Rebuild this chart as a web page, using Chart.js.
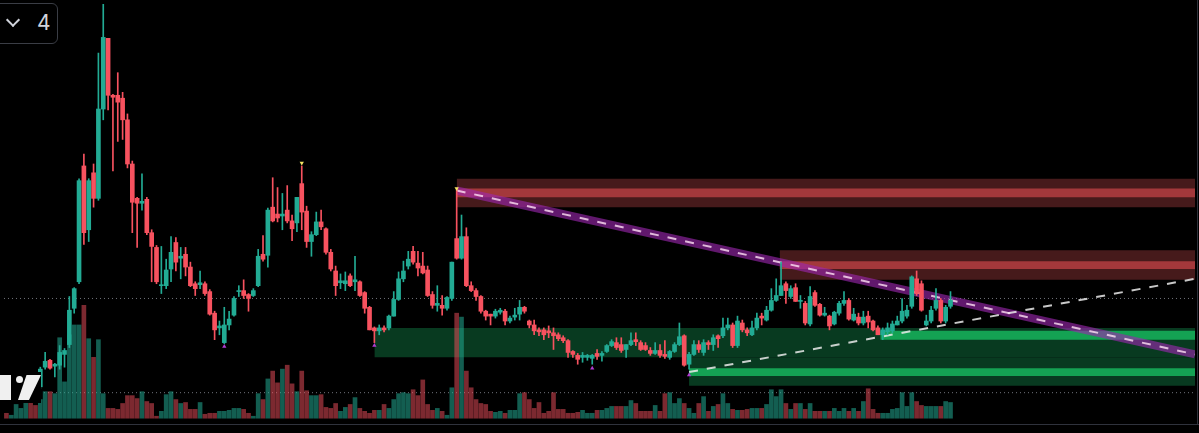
<!DOCTYPE html>
<html>
<head>
<meta charset="utf-8">
<script src="https://cdn.jsdelivr.net/npm/chart.js@4.4.1/dist/chart.umd.min.js"></script>
<style>
  html, body { margin: 0; padding: 0; background: #000; }
  #wrap { position: relative; width: 1199px; height: 433px; overflow: hidden; background: #000; }
  .btn { position: absolute; left: -8px; top: 3px; width: 64px; height: 39px; border: 1px solid #3a3d45; border-radius: 6px; background: #000; }
  .chev { position: absolute; left: 15px; top: 11px; width: 8px; height: 8px; border-right: 2px solid #d1d4dc; border-bottom: 2px solid #d1d4dc; transform: rotate(45deg); }
  .num { position: absolute; left: 44px; top: 6px; font: 21px "Inter", "Roboto", sans-serif; color: #d1d4dc; }
  .logo { position: absolute; left: 0; top: 372px; width: 41px; height: 31px; background: #000; }
  .logo .a { position: absolute; left: 0; top: 3px; width: 11px; height: 25px; background: #f0f0f0; }
  .logo .b { position: absolute; left: 16px; top: 4px; width: 7px; height: 7px; border-radius: 50%; background: #f0f0f0; }
  .logo .c { position: absolute; left: 16px; top: 3px; width: 25px; height: 25px; background: #f0f0f0; clip-path: polygon(42% 0, 100% 0, 52% 100%, 8% 100%); }
  .edge-b { position: absolute; left: 0; top: 424px; width: 1199px; height: 1px; background: #2f323c; }
  .edge-r { position: absolute; left: 1197px; top: 0; width: 1px; height: 425px; background: #2f323c; }
</style>
</head>
<body>
<div id="wrap">
  <canvas id="myChart"></canvas>
  <div class="btn"><span class="chev"></span><span class="num">4</span></div>
  <div class="logo"><span class="a"></span><span class="b"></span><span class="c"></span></div>
  <div class="edge-b"></div>
  <div class="edge-r"></div>
</div>
<script>
// candles, one per bar index (price units are arbitrary)
const opens = [
  48,46,48,50,51,54,51,50,
  70,77,71,72,83,93,130,157,275,210,268,242,
  333,405,347,347,344,322,277,242,237,241,207,192,
  153,153,170,197,181,185,172,155,154,155,147,125,
  110,95,113,123,147,148,144,143,153,185,184,233,
  226,224,230,219,217,257,229,198,205,218,211,187,
  168,156,155,163,157,157,146,131,110,107,110,110,
  122,139,160,173,188,176,173,169,144,133,133,130,
  140,201,181,203,153,148,142,127,124,122,126,127,
  117,121,124,131,117,113,108,108,107,105,103,100,
  97,86,82,80,80,79,84,82,86,92,95,93,
  88,93,98,95,92,87,84,87,83,80,86,93,
  102,73,83,93,85,95,93,102,102,110,113,92,
  115,108,103,110,122,118,128,138,143,155,142,151,
  137,135,114,146,134,123,122,114,125,135,138,118,
  121,115,122,117,110,103,106,107,113,117,122,132,
  160,155,113,117,130,138,117,132
];
const highs = [
  50,51,52,53,56,55,53,70,
  85,78,74,92,89,142,151,262,287,262,277,390,
  440,405,348,370,350,328,280,243,267,243,210,194,
  193,180,203,202,192,192,177,157,168,157,149,127,
  117,131,127,142,153,159,145,150,190,204,232,263,
  253,247,255,225,243,275,234,208,228,230,212,190,
  173,165,167,165,183,158,147,132,111,113,112,123,
  147,167,178,188,193,188,187,173,147,153,143,142,
  177,251,225,212,157,150,143,128,124,129,130,129,
  122,130,138,132,118,118,110,110,112,110,105,102,
  98,87,84,85,83,83,88,86,93,98,100,100,
  93,105,105,97,95,90,95,93,97,87,95,115,
  103,85,97,97,98,97,103,103,120,120,115,122,
  118,110,117,125,125,132,150,160,177,157,153,155,
  143,137,152,148,135,131,123,127,137,147,140,130,
  125,127,127,118,112,110,115,117,122,140,133,163,
  168,158,123,132,150,140,133,147
];
const lows = [
  44,45,46,47,49,49,48,48,
  68,68,60,68,70,90,125,155,195,198,233,240,
  322,332,270,300,302,273,207,192,230,205,157,155,
  145,150,157,168,160,163,152,143,150,143,123,98,
  103,94,108,122,142,140,127,142,152,178,172,218,
  218,210,217,199,208,210,192,183,204,210,185,168,
  143,150,148,152,148,142,125,108,95,103,106,108,
  122,138,157,170,175,163,165,142,130,127,123,128,
  138,180,180,152,147,138,125,118,113,120,124,113,
  115,118,118,125,110,103,102,98,100,88,97,95,
  80,80,73,75,77,73,78,76,85,91,88,85,
  80,92,92,87,87,82,83,80,79,78,85,92,
  71,68,82,85,82,88,87,90,100,108,90,90,
  106,102,102,108,113,117,127,137,143,135,140,137,
  130,113,112,132,122,122,108,113,123,133,118,117,
  113,113,110,107,103,98,103,105,113,115,120,130,
  143,127,112,115,128,115,115,130
];
const closes = [
  46,49,50,51,54,51,49,68,
  76,69,73,85,87,128,150,260,207,260,242,333,
  406,347,345,340,322,277,238,237,239,207,193,157,
  154,169,187,177,183,172,153,150,156,145,124,108,
  112,113,119,140,148,143,140,148,183,180,230,219,
  222,226,219,211,243,228,198,205,218,213,187,170,
  153,158,158,153,159,143,130,108,107,110,108,122,
  139,160,168,180,177,171,166,143,133,135,130,141,
  177,181,203,153,148,142,127,122,122,127,128,117,
  120,123,131,127,113,107,106,103,105,102,99,97,
  85,83,78,82,82,82,81,84,92,96,90,87,
  93,97,96,88,88,84,87,82,81,86,93,101,
  72,83,93,88,95,93,100,99,110,113,92,117,
  108,105,110,120,120,128,138,143,153,148,150,137,
  138,115,142,133,123,125,112,126,135,138,119,124,
  115,121,116,108,103,108,110,114,117,127,128,162,
  145,128,117,128,138,117,131,138
];
const volumes = [
  5,3,14,10,18,18,13,19,27,27,25,82,
  37,85,95,95,115,81,62,80,25,10,10,9,
  15,23,23,20,27,17,15,2,7,24,27,19,
  15,16,9,9,16,4,5,5,7,7,8,10,
  10,9,5,2,25,19,40,48,36,50,54,35,
  27,48,28,23,23,24,11,10,15,7,11,14,
  21,10,7,5,8,8,14,10,19,25,26,25,
  29,23,39,14,8,10,7,3,31,107,103,48,
  31,19,15,14,7,6,7,5,8,8,25,26,
  19,10,16,5,7,26,9,9,5,5,6,8,
  5,5,8,8,10,12,12,12,12,18,15,7,
  7,7,13,7,25,26,15,20,15,10,5,15,
  22,7,12,14,25,15,9,8,8,9,10,10,
  10,14,29,22,29,15,9,15,15,9,15,7,
  7,7,7,10,7,10,7,10,7,17,30,9,
  5,5,5,9,10,26,12,26,17,13,12,12,
  12,12,17,16
];

// empty bars to the right of the last candle
const barCount = 246;
const labels = [];
for (let i = 0; i < barCount; i++) labels.push(String(i));
const lastX = barCount - 0.5;

// zones: start bar, top price, bottom price
const supplyOuter = [[93, 262, 233], [159.7, 189, 159]];
const supplyInner = [[93, 252, 243], [159.7, 178, 170]];
const demandOuter = [[76, 110, 80], [141, 80, 51]];
const demandInner = [[141, 69, 61], [180.5, 107, 98]];

// trendlines [bar, price]
const trendDown = [[93, 250], [lastX, 83]];
const trendUp = [[141, 65], [lastX, 160]];
const dottedLevels = [140, 44];
const peakMarks = [[61, 278], [93, 252]];
const lowMarks = [[45, 91], [76, 92], [121, 69], [141, 62]];

const UP = "#22ab94";
const DOWN = "#f7525f";
const isUp = opens.map((o, i) => closes[i] >= o);
const candleColors = isUp.map(u => (u ? UP : DOWN));
const volColors = isUp.map(u => (u ? "rgba(34,171,148,0.55)" : "rgba(247,82,95,0.5)"));

function zoneSet(list, color, order) {
  return list.map(z => ({
    type: "line",
    xAxisID: "xl",
    yAxisID: "y",
    data: [{ x: z[0], y: z[1] }, { x: lastX, y: z[1] }],
    fill: { value: z[2] },
    backgroundColor: color,
    borderWidth: 0,
    pointRadius: 0,
    order: order
  }));
}

function pts(list) {
  return list.map(p => ({ x: p[0], y: p[1] }));
}

const datasets = [].concat(
  zoneSet(supplyOuter, "#461a1b", 30),
  zoneSet(supplyInner, "#a3383b", 29),
  zoneSet(demandOuter, "#083a20", 30),
  zoneSet(demandInner, "#14a253", 29),
  dottedLevels.map(v => ({
    type: "line",
    xAxisID: "xl",
    yAxisID: "y",
    data: [{ x: -0.5, y: v }, { x: lastX, y: v }],
    borderColor: "rgba(140,143,152,0.8)",
    borderWidth: 1,
    borderDash: [1, 3],
    pointRadius: 0,
    fill: false,
    order: 25
  })),
  [
    {
      type: "bar",
      xAxisID: "x",
      yAxisID: "yv",
      data: volumes,
      backgroundColor: volColors,
      barThickness: 4,
      grouped: false,
      order: 20
    },
    {
      type: "line",
      xAxisID: "xl",
      yAxisID: "y",
      data: pts(trendDown),
      borderColor: "rgba(156,39,176,0.62)",
      borderWidth: 8,
      pointRadius: 0,
      fill: false,
      order: 15
    },
    {
      type: "line",
      xAxisID: "xl",
      yAxisID: "y",
      data: pts(trendDown),
      borderColor: "rgba(255,225,245,0.8)",
      borderWidth: 2,
      borderDash: [9, 9],
      pointRadius: 0,
      fill: false,
      order: 14
    },
    {
      type: "line",
      xAxisID: "xl",
      yAxisID: "y",
      data: pts(trendUp),
      borderColor: "rgba(235,235,235,0.85)",
      borderWidth: 2,
      borderDash: [9, 9],
      pointRadius: 0,
      fill: false,
      order: 14
    },
    {
      type: "bar",
      xAxisID: "x",
      yAxisID: "y",
      data: lows.map((l, i) => [l, highs[i]]),
      backgroundColor: candleColors,
      barThickness: 1,
      grouped: false,
      order: 4
    },
    {
      type: "bar",
      xAxisID: "x",
      yAxisID: "y",
      data: opens.map((o, i) => [o, closes[i]]),
      backgroundColor: candleColors,
      barThickness: 4,
      minBarLength: 1,
      grouped: false,
      order: 3
    },
    {
      type: "scatter",
      xAxisID: "xl",
      yAxisID: "y",
      data: pts(peakMarks),
      pointStyle: "triangle",
      rotation: 180,
      radius: 2.5,
      backgroundColor: "#f5e663",
      borderWidth: 0,
      order: 1
    },
    {
      type: "scatter",
      xAxisID: "xl",
      yAxisID: "y",
      data: pts(lowMarks),
      pointStyle: "triangle",
      radius: 2.5,
      backgroundColor: "#b13bd0",
      borderWidth: 0,
      order: 1
    }
  ]
);

new Chart(document.getElementById("myChart"), {
  type: "bar",
  data: { labels: labels, datasets: datasets },
  options: {
    responsive: true,
    maintainAspectRatio: false,
    animation: false,
    events: [],
    layout: { padding: 0 },
    plugins: { legend: { display: false }, tooltip: { enabled: false } },
    scales: {
      x: { type: "category", display: false, offset: true },
      xl: { type: "linear", display: false, offset: false, bounds: "data", min: -0.5, max: lastX },
      y: { display: false, min: 7, max: 440 },
      yv: { display: false, min: -11, max: 422 }
    }
  }
});
</script>
</body>
</html>
